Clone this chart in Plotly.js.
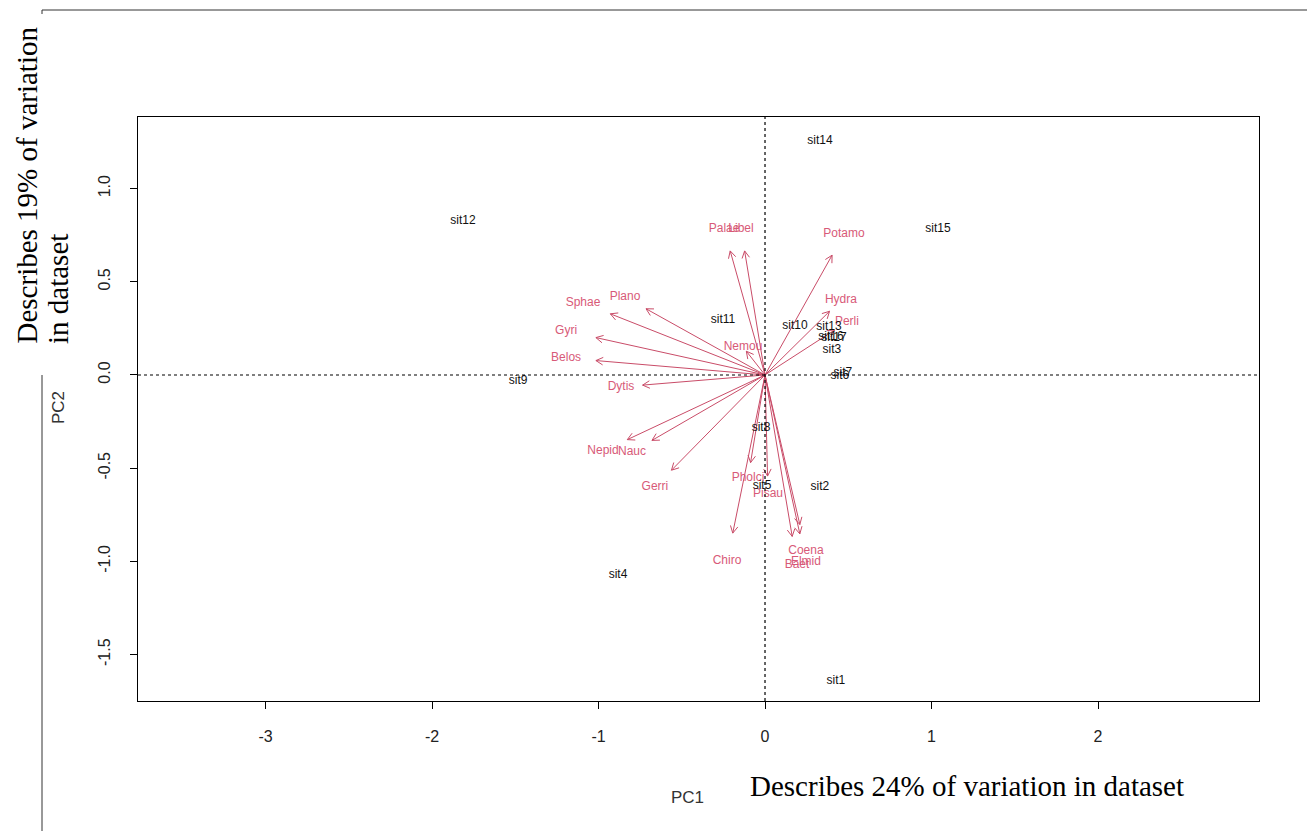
<!DOCTYPE html>
<html><head><meta charset="utf-8">
<script src="https://cdn.plot.ly/plotly-3.0.1.min.js"></script>
<style>body{margin:0;background:#fff}#c{width:1307px;height:831px}</style>
</head><body><div id="c"></div>
<script>
// Site scores (PC1, PC2)
const siteNames = ["sit1","sit2","sit3","sit4","sit5","sit6","sit7","sit8","sit9","sit10","sit11","sit12","sit13","sit14","sit15","sit16","sit17"];
const sitePC1 = [0.426,0.330,0.402,-0.883,-0.018,0.450,0.468,-0.024,-1.483,0.180,-0.252,-1.814,0.384,0.330,1.039,0.396,0.414];
const sitePC2 = [-1.642,-0.601,0.134,-1.073,-0.595,-0.005,0.011,-0.284,-0.032,0.263,0.295,0.826,0.258,1.255,0.783,0.204,0.198];

// Variable loadings (label positions; arrows drawn to 0.85 of these)
const varNames = ["Sphae","Plano","Gyri","Belos","Dytis","Nepid","Nauc","Gerri","Chiro","Pholci","Pisau","Coena","Baet","Elmid","Potamo","Hydra","Perli","Nemou","Palae","Libel"];
const varPC1 = [-1.093,-0.841,-1.195,-1.195,-0.865,-0.973,-0.799,-0.661,-0.228,-0.102,0.018,0.246,0.192,0.246,0.474,0.456,0.492,-0.132,-0.246,-0.144];
const varPC2 = [0.386,0.418,0.236,0.091,-0.064,-0.408,-0.413,-0.601,-0.998,-0.553,-0.638,-0.944,-1.019,-1.003,0.756,0.402,0.284,0.150,0.783,0.783];

const xTicks = [-3,-2,-1,0,1,2];
const yTicks = [-1.5,-1.0,-0.5,0.0,0.5,1.0];
const yTickText = ["-1.5","-1.0","-0.5","0.0","0.5","1.0"];

const W = 1307, H = 831;
const M = {l:138, r:48, t:117, b:130};
const xRange = [-3.766, 2.967];
const yRange = [-1.749, 1.384];
const arrowScale = 0.85;
const labelRed = "#D85A78";
const arrowRed = "#C94C68";

// px per unit to build arrowheads with correct on-screen angle
const kx = (W - M.l - M.r) / (xRange[1]-xRange[0]);
const ky = (H - M.t - M.b) / (yRange[1]-yRange[0]);
const headLen = 8, headAng = 28*Math.PI/180;

const ax = [], ay = [];
for (let i=0;i<varNames.length;i++){
  const tx = varPC1[i]*arrowScale, ty = varPC2[i]*arrowScale;
  ax.push(0, tx, null); ay.push(0, ty, null);
  const px = tx*kx, py = ty*ky;
  const a = Math.atan2(py, px);
  for (const s of [1,-1]){
    const b = a + Math.PI + s*headAng;
    ax.push(tx, tx + headLen*Math.cos(b)/kx, null);
    ay.push(ty, ty + headLen*Math.sin(b)/ky, null);
  }
}

const traces = [
  {type:"scatter", mode:"lines", x:ax, y:ay, line:{color:arrowRed, width:1}, hoverinfo:"skip"},
  {type:"scatter", mode:"text", x:varPC1, y:varPC2, text:varNames, textposition:"middle center",
   textfont:{family:"Liberation Sans, Arial, sans-serif", size:12, color:labelRed}, cliponaxis:false},
  {type:"scatter", mode:"text", x:sitePC1, y:sitePC2, text:siteNames, textposition:"middle center",
   textfont:{family:"Liberation Sans, Arial, sans-serif", size:12, color:"#111"}, cliponaxis:false}
];

const pxX = p => (p - M.l)/(W - M.l - M.r);
const pxY = p => (H - M.b - p)/(H - M.t - M.b);

const layout = {
  width:W, height:H, margin:M, showlegend:false,
  paper_bgcolor:"#fff", plot_bgcolor:"#fff",
  font:{family:"Liberation Sans, Arial, sans-serif", color:"#222"},
  xaxis:{range:xRange, tickmode:"array", tickvals:xTicks, ticktext:xTicks.map(String),
    showgrid:false, zeroline:false, showline:true, mirror:true, linecolor:"#000", linewidth:1,
    ticks:"outside", ticklen:7, tickcolor:"#000", tickfont:{size:16, color:"#222"}, ticklabelstandoff:14},
  yaxis:{range:yRange, tickmode:"array", tickvals:yTicks, ticktext:yTickText, tickangle:-90,
    showgrid:false, zeroline:false, showline:true, mirror:true, linecolor:"#000", linewidth:1,
    ticks:"outside", ticklen:7, tickcolor:"#000", tickfont:{size:16, color:"#222"}, ticklabelstandoff:14},
  shapes:[
    {type:"line", xref:"paper", yref:"y", x0:0, x1:1, y0:0, y1:0, line:{color:"#000", width:1.2, dash:"dot"}},
    {type:"line", xref:"x", yref:"paper", x0:0, x1:0, y0:0, y1:1, line:{color:"#000", width:1.2, dash:"dot"}},
    {type:"line", xref:"paper", yref:"paper", x0:pxX(42), x1:pxX(1307), y0:pxY(10), y1:pxY(10), line:{color:"#333", width:1}},
    {type:"line", xref:"paper", yref:"paper", x0:pxX(42), x1:pxX(42), y0:pxY(10), y1:pxY(14), line:{color:"#333", width:1}},
    {type:"line", xref:"paper", yref:"paper", x0:pxX(42), x1:pxX(42), y0:pxY(375), y1:pxY(831), line:{color:"#333", width:1}}
  ],
  annotations:[
    {xref:"paper", yref:"paper", x:pxX(687), y:pxY(797), text:"PC1", showarrow:false,
     font:{size:17, color:"#333"}, xanchor:"center", yanchor:"middle"},
    {xref:"paper", yref:"paper", x:pxX(58), y:pxY(408), text:"PC2", showarrow:false, textangle:-90,
     font:{size:17, color:"#333"}, xanchor:"center", yanchor:"middle"},
    {xref:"paper", yref:"paper", x:pxX(748), y:pxY(786), text:"Describes 24% of variation in dataset", showarrow:false,
     font:{family:"Liberation Serif, Times New Roman, serif", size:29, color:"#000"}, xanchor:"left", yanchor:"middle"},
    {xref:"paper", yref:"paper", x:pxX(26), y:pxY(346), text:"Describes 19% of variation", showarrow:false, textangle:-90,
     font:{family:"Liberation Serif, Times New Roman, serif", size:29, color:"#000"}, xanchor:"center", yanchor:"bottom"},
    {xref:"paper", yref:"paper", x:pxX(58), y:pxY(346), text:"in dataset", showarrow:false, textangle:-90,
     font:{family:"Liberation Serif, Times New Roman, serif", size:29, color:"#000"}, xanchor:"center", yanchor:"bottom"}
  ]
};
Plotly.newPlot("c", traces, layout, {displayModeBar:false, staticPlot:true});
</script></body></html>
